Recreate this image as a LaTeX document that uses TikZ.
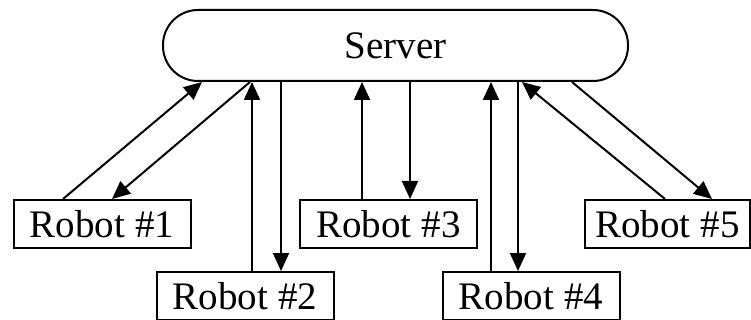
\documentclass[tikz,border=0pt]{standalone}
\usepackage{fontspec}
\setmainfont{Liberation Serif}
\usepackage{tikz}
\usetikzlibrary{arrows.meta,positioning}
\tikzset{
  net/.style={every edge/.style={draw=black, line width=2pt, -{Triangle[length=18pt,width=16pt]}}},
  srv/.style={
    rectangle, rounded corners=35pt, draw=black, line width=2pt,
    minimum width=465pt, minimum height=71pt, inner sep=0pt,
    font=\fontsize{39}{45}\selectfont
  },
  bot/.style={
    rectangle, draw=black, line width=2pt, minimum width=177pt,
    minimum height=48pt, inner sep=0pt, font=\fontsize{39}{45}\selectfont
  },
}

\begin{document}
\begin{tikzpicture}[net, x=1pt, y=1pt]
  \useasboundingbox (0,0) rectangle (751,-320);
  \node[srv] (server) at (395.5,-45.5) {Server};
  \node[bot] (r1) at (102,-224) {Robot \#1};
  \node[bot] (r2) at (245,-296) {Robot \#2};
  \node[bot] (r3) at (388.5,-224) {Robot \#3};
  \node[bot] (r4) at (531,-296) {Robot \#4};
  \node[bot, minimum width=165pt] (r5) at (667.5,-224) {Robot \#5};
  % robot 1
  \path ([xshift=-39pt]r1.north) edge ([xshift=-193.5pt]server.south);
  \path ([xshift=-145.5pt]server.south) edge ([xshift=10pt]r1.north);
  % robot 2
  \path ([xshift=7pt]r2.north) edge ([xshift=7pt]r2.north |- server.south);
  \path ([xshift=36pt]r2.north |- server.south) edge ([xshift=36pt]r2.north);
  % robot 3
  \path ([xshift=-26.5pt]r3.north) edge ([xshift=-26.5pt]r3.north |- server.south);
  \path ([xshift=21.5pt]r3.north |- server.south) edge ([xshift=21.5pt]r3.north);
  % robot 4
  \path ([xshift=-40pt]r4.north) edge ([xshift=-40pt]r4.north |- server.south);
  \path ([xshift=-13pt]r4.north |- server.south) edge ([xshift=-13pt]r4.north);
  % robot 5
  \path ([xshift=-2.5pt]r5.north) edge ([xshift=126.5pt]server.south);
  \path ([xshift=176.5pt]server.south) edge ([xshift=44.5pt]r5.north);
\end{tikzpicture}
\end{document}
